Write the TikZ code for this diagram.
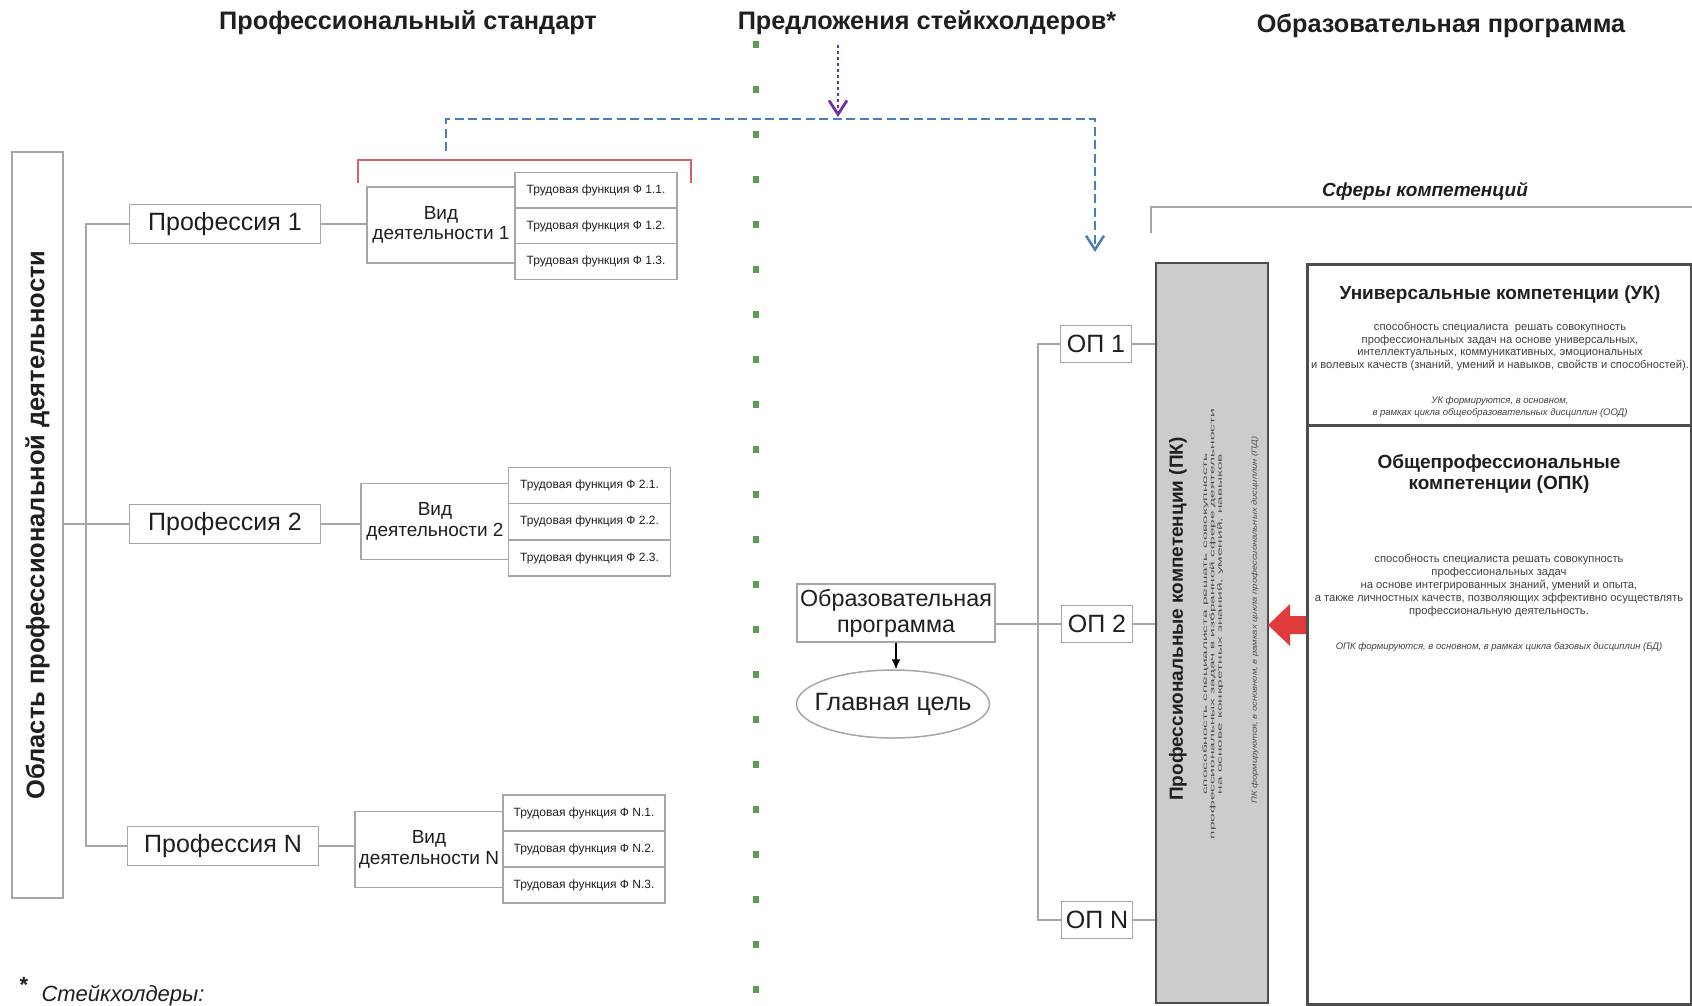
\documentclass[tikz,border=0pt]{standalone}
\usepackage{fontspec}
\usepackage{graphicx}
\setmainfont{Liberation Sans}
\usetikzlibrary{arrows.meta,positioning,shapes.geometric}
\definecolor{linegray}{HTML}{A6A6A6}
\definecolor{textgray}{HTML}{1F1F1F}
\definecolor{pkgray}{HTML}{CCCCCC}
\definecolor{framegray}{HTML}{4D4D4D}
\definecolor{dashblue}{HTML}{4A7EBB}
\definecolor{dotpurple}{HTML}{7030A0}
\definecolor{dotgreen}{HTML}{5C9C55}
\definecolor{bracketred}{HTML}{D8606A}
\definecolor{blockred}{HTML}{E03B3B}
\newcommand{\fsz}[2]{\fontsize{#1}{#2}\selectfont}
\tikzset{%
  >={Latex[length=10pt,width=9pt]}, % default arrow style
  box/.style={draw=linegray, line width=1.5pt, fill=white, text=textgray,
    inner sep=0pt, align=center},%
  probox/.style={box, minimum width=191pt, minimum height=39pt, font=\fsz{25}{27}},%
  vidbox/.style={box, minimum width=148pt, minimum height=76pt, font=\fsz{19}{20.5}},%
  funbox/.style={box, minimum width=162pt, minimum height=36pt, font=\fsz{12}{14}},%
  opbox/.style={box, minimum width=71pt, minimum height=37pt, font=\fsz{25}{27}},%
  conn/.style={draw=linegray, line width=1.5pt},%
  heading/.style={font=\fsz{25.3}{28}\bfseries, text=textgray},%
  comptitle/.style={font=\fsz{19}{21}\bfseries, text=textgray, align=center},%
  compbody/.style={font=\fsz{11.2}{12.9}, text=black!75, align=center},%
  compnote/.style={font=\fsz{9.5}{12}\itshape, text=black!75, align=center}%
}

\begin{document}
\begin{tikzpicture}[x=1pt,y=-1pt]
  \useasboundingbox (0,0) rectangle (1692,1005);
  % headings
  \node[heading] (stdhead)   at (408,23)  {Профессиональный стандарт};
  \node[heading] (stakehead) at (927,23)  {Предложения стейкхолдеров*};
  \node[heading] (ephead)    at (1441,26) {Образовательная программа};
  % stakeholder divider
  \foreach \i in {0,...,21}
    \fill[dotgreen] (753,41+45*\i) rectangle ++(6,7);
  % area of professional activity
  \node[box, minimum width=51pt, minimum height=746pt] (area) at (37.5,525) {};
  \node[rotate=90, font=\fsz{25.5}{28}\bfseries, text=textgray] (arealabel) at (area)
    {Область профессиональной деятельности};
  % professions
  \node[probox] (prof1) at (225,224) {Профессия 1};
  \node[probox] (prof2) at (225,524) {Профессия 2};
  \node[probox] (profN) at (223,846) {Профессия N};
  \coordinate (fork) at (86,524);
  \draw[conn] (area.east |- fork) -- (prof2.west);
  \draw[conn] (prof1.west) -| (fork) |- (profN.west);
  % kinds of activity
  \node[vidbox] (vid1) at (441,225)   {Вид\\деятельности 1};
  \node[vidbox] (vid2) at (435,521.5) {Вид\\деятельности 2};
  \node[vidbox] (vidN) at (429,849.5) {Вид\\деятельности N};
  \draw[conn] (prof1.east) -- (prof1.east -| vid1.west);
  \draw[conn] (prof2.east) -- (prof2.east -| vid2.west);
  \draw[conn] (profN.east) -- (profN.east -| vidN.west);
  % labour functions
  \foreach \k in {1,2,3} {
    \node[funbox] (f1\k) at (596,155+35.5*\k) {Трудовая функция Ф 1.\k.};
    \node[funbox] (f2\k) at (589.5,449+36.3*\k) {Трудовая функция Ф 2.\k.};
    \node[funbox] (fN\k) at (584,777+36*\k) {Трудовая функция Ф N.\k.};
  }
  % bracket and stakeholder proposals
  \draw[bracketred, line width=1.5pt] (358,183) |- (691,160) -- (691,183);
  \coordinate (bracket) at (446,151);
  \coordinate (target)  at (1095,252);
  \coordinate (propose) at (838,45);
  \draw[dashblue, line width=2.5pt, dash pattern=on 9pt off 4.5pt,
    -{Straight Barb[length=14pt,width=18pt]}] (bracket) |- (1095,119) -- (target);
  \draw[dotpurple, line width=2.8pt, dash pattern=on 3pt off 3pt,
    -{Straight Barb[length=14pt,width=18pt]}] (propose) -- (838,117);
  % educational programme
  \node[box, minimum width=198pt, minimum height=58pt, font=\fsz{23.3}{26}] (ep) at (896,613)
    {Образовательная\\программа};
  \node[box, ellipse, minimum width=193pt, minimum height=68pt] (goal) at (893,704) {};
  \node[font=\fsz{25}{27}, text=textgray] (goallabel) at (goal) {Главная цель};
  \draw[->, line width=1.5pt] (ep.south) -- (ep.south |- goal.north);
  % programme variants
  \node[opbox] (op1) at (1096,344) {ОП 1};
  \node[opbox] (op2) at (1097,624) {ОП 2};
  \node[opbox] (opN) at (1097,920) {ОП N};
  \coordinate (opfork) at (1038,624);
  \draw[conn] (ep.east |- op2) -- (op2.west);
  \draw[conn] (op1.west) -| (opfork) |- (opN.west);
  % competence spheres
  \node[font=\fsz{19}{22}\bfseries\itshape, text=textgray] (spheres) at (1425,191) {Сферы компетенций};
  \draw[conn] (1151,233) |- (1692,207);
  % professional competencies
  \node[draw=framegray, fill=pkgray, line width=2.5pt, minimum width=112pt,
    minimum height=740pt, inner sep=0pt] (pk) at (1212,633) {};
  \foreach \op in {op1,op2,opN}
    \draw[conn] (\op.east) -- (\op.east -| pk.west);
  \node[rotate=90, comptitle] (pktitle) at (1178,619) {Профессиональные компетенции (ПК)};
  \node[rotate=90, text=black!70, inner sep=0pt] (pktext) at (1213,624)
    {\resizebox*{430pt}{22pt}{\fsz{7}{8}\begin{tabular}{@{}c@{}}
      способность специалиста решать совокупность\\
      профессиональных задач в избранной сфере деятельности\\
      на основе конкретных знаний, умений, навыков\end{tabular}}};
  \node[rotate=90, text=black!70, inner sep=0pt] (pknote) at (1255,620)
    {\resizebox*{367pt}{7pt}{\fsz{7}{8}\itshape ПК формируются, в основном, в рамках цикла профессиональных дисциплин (ПД)}};
  % red arrow
  \fill[blockred] (1268,625) -- (1290,604) -- (1290,616) -- (1306,616)
    -- (1306,634) -- (1290,634) -- (1290,646) -- cycle;
  % universal and general professional competencies
  \node[draw=framegray, line width=2.5pt, minimum width=384pt, minimum height=161pt,
    inner sep=0pt, anchor=north west] (uk) at (1306,263) {};
  \node[draw=framegray, line width=2.5pt, minimum width=384pt, minimum height=579pt,
    inner sep=0pt, anchor=north west] (opk) at (1306,424) {};
  \node[comptitle] (uktitle) at (1500,295) {Универсальные компетенции (УК)};
  \node[compbody] (uktext) at (1500,346.5) {способность специалиста\ \ решать совокупность\\
    профессиональных задач на основе универсальных,\\
    интеллектуальных, коммуникативных, эмоциональных\\
    и волевых качеств (знаний, умений и навыков, свойств и способностей).};
  \node[compnote] (uknote) at (1500,407) {УК формируются, в основном,\\
    в рамках цикла общеобразовательных дисциплин (ООД)};
  \node[comptitle] (opktitle) at (1499,473.5) {Общепрофессиональные\\компетенции (ОПК)};
  \node[compbody] (opktext) at (1499,585.5) {способность специалиста решать совокупность\\
    профессиональных задач\\
    на основе интегрированных знаний, умений и опыта,\\
    а также личностных качеств, позволяющих эффективно осуществлять\\
    профессиональную деятельность.};
  \node[compnote] (opknote) at (1499,647)
    {ОПК формируются, в основном, в рамках цикла базовых дисциплин (БД)};
  % footnote
  \node[font=\fsz{22}{26}\bfseries, text=textgray] (star) at (24,985) {*};
  \node[font=\fsz{22}{26}\itshape, text=textgray, anchor=base west] (stakenote) at (38,1001)
    {Стейкхолдеры:};
\end{tikzpicture}
\end{document}
